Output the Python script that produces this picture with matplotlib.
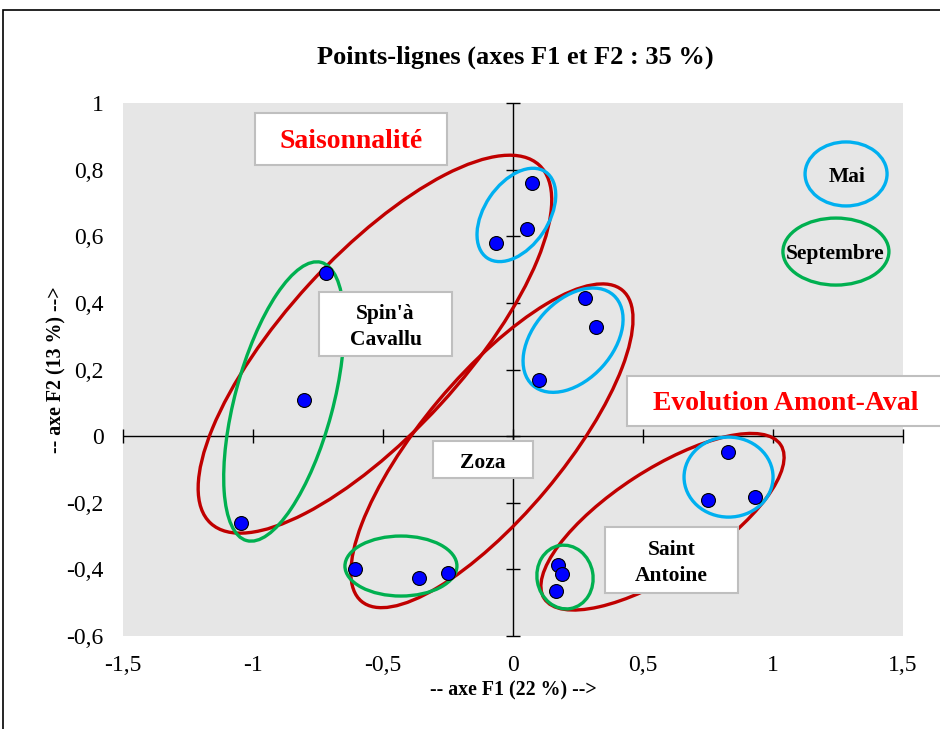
import numpy as np
import matplotlib
matplotlib.use("Agg")
from matplotlib import pyplot as plt
from matplotlib.patches import Ellipse, Rectangle
from matplotlib.transforms import ScaledTranslation

plt.rcParams["font.family"] = ["Liberation Serif", "DejaVu Serif"]

# coordinates of the rows/columns on F1 / F2
f1 = [-0.719, -0.804, -1.046, -0.608, -0.362, -0.25, -0.065, 0.054, 0.073,
      0.277, 0.319, 0.10, 0.173, 0.188, 0.165, 0.827, 0.75, 0.931]
f2 = [0.489, 0.108, -0.261, -0.40, -0.426, -0.41, 0.58, 0.621, 0.76,
      0.414, 0.327, 0.168, -0.387, -0.414, -0.465, -0.048, -0.192, -0.183]

x_ticks = [-1.5, -1, -0.5, 0, 0.5, 1, 1.5]
y_ticks = [-0.6, -0.4, -0.2, 0, 0.2, 0.4, 0.6, 0.8, 1]

RED = "#C00000"
GREEN = "#00B050"
CYAN = "#00B0F0"

# group ellipses: centre (data), width/height (px), angle (deg, display), colour
groups = [
    (-0.531, 0.276, 486, 178, 47.5, RED),
    (-0.081, -0.029, 406, 140, 50, RED),
    (0.575, -0.257, 282, 104, 33, RED),
    (-0.881, 0.104, 288, 98, 75, GREEN),
    (-0.431, -0.39, 112, 60, 0, GREEN),
    (0.2, -0.423, 56, 64, 10, GREEN),
    (0.013, 0.664, 104, 64, 56, CYAN),
    (0.231, 0.288, 121, 79, 48, CYAN),
    (0.829, -0.123, 89, 80, 0, CYAN),
    (1.281, 0.787, 82, 64, 0, CYAN),
    (1.242, 0.554, 106, 67, 0, GREEN),
]

fig = plt.figure(figsize=(9.4, 7.29), dpi=100)
ax = fig.add_axes([123 / 940, 1 - 636 / 729, 780 / 940, 533 / 729])
ax.set_facecolor("#E6E6E6")
ax.set_xlim(-1.5, 1.5)
ax.set_ylim(-0.6, 1)
for s in ax.spines.values():
    s.set_visible(False)

ax.set_xticks(x_ticks)
ax.set_xticklabels([f"{t:g}".replace(".", ",") for t in x_ticks])
ax.set_yticks(y_ticks)
ax.set_yticklabels([f"{t:g}".replace(".", ",") for t in y_ticks])
ax.tick_params(length=0, labelsize=17)
ax.tick_params(axis="y", pad=14)
ax.tick_params(axis="x", pad=14)

# axes through the origin with crossing tick marks
ax.axhline(0, color="black", lw=1, zorder=2)
ax.axvline(0, color="black", lw=1, zorder=2)
ax.plot(x_ticks, np.zeros(len(x_ticks)), ls="none", marker="|", ms=10,
        color="black", mew=1, zorder=2, clip_on=False)
ax.plot(np.zeros(len(y_ticks)), y_ticks, ls="none", marker="_", ms=10,
        color="black", mew=1, zorder=2, clip_on=False)

for cx, cy, w, h, ang, col in groups:
    tr = fig.dpi_scale_trans + ScaledTranslation(cx, cy, ax.transData)
    ax.add_patch(Ellipse((0, 0), w / 100, h / 100, angle=ang, transform=tr,
                         fill=False, edgecolor=col, lw=2.4, zorder=3))

ax.scatter(f1, f2, s=100, color="#0000FF", edgecolors="black", linewidths=0.8,
           zorder=4)

ax.set_xlabel("-- axe F1 (22 %) -->", fontsize=14.3, fontweight="bold")
ax.set_ylabel("-- axe F2 (13 %) -->", fontsize=14.3, fontweight="bold")
ax.xaxis.set_label_coords(0.5, -0.084)
ax.yaxis.set_label_coords(-0.072, 0.5)
fig.text(515 / 940, 1 - 57 / 729, "Points-lignes (axes F1 et F2 : 35 %)",
         ha="center", va="center", fontsize=19, fontweight="bold")


def box(x0, y0, x1, y1, text, color="black", size=15.5):
    fig.add_artist(Rectangle((x0 / 940, 1 - y1 / 729), (x1 - x0) / 940,
                             (y1 - y0) / 729, transform=fig.transFigure,
                             facecolor="white", edgecolor="#BFBFBF", lw=1.5,
                             zorder=5))
    fig.text((x0 + x1) / 2 / 940, 1 - ((y0 + y1) / 2 + 3) / 729, text,
             ha="center", va="center", fontsize=size, fontweight="bold",
             color=color, linespacing=1.35, zorder=6)


box(255, 113, 447, 165, "Saisonnalité", color="red", size=20)
box(319, 292, 452, 356, "Spin'à\nCavallu")
box(433, 441, 533, 478, "Zoza")
box(605, 527, 738, 593, "Saint\nAntoine")
box(627, 376, 945, 426, "Evolution Amont-Aval", color="red", size=20)
fig.text(847 / 940, 1 - 177 / 729, "Mai", ha="center", va="center",
         fontsize=15.5, fontweight="bold")
fig.text(835 / 940, 1 - 254 / 729, "Septembre", ha="center", va="center",
         fontsize=15.5, fontweight="bold")

# outer chart border
fig.add_artist(Rectangle((3 / 940, -0.1), 1.1, 1.1 - 10 / 729,
                         transform=fig.transFigure, fill=False,
                         edgecolor="black", lw=1.2, zorder=10))

fig.savefig("out.png", dpi=100)
